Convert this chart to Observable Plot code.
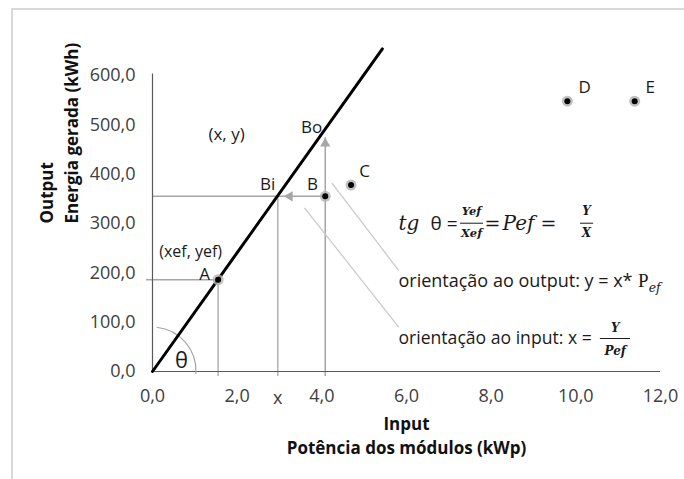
<!DOCTYPE html>
<html><head><meta charset="utf-8">
<script src="https://cdn.jsdelivr.net/npm/d3@7"></script>
<script src="https://cdn.jsdelivr.net/npm/@observablehq/plot@0.6"></script>
<style>
body{margin:0;background:#fff;}
#wrap{position:relative;width:684px;height:479px;overflow:hidden;}
#border{position:absolute;left:11px;top:8px;width:720px;height:520px;border-left:2px solid #d9d9d9;border-top:2px solid #d9d9d9;}
#chart{position:absolute;left:0;top:0;}
</style></head><body>
<div id="wrap"><div id="border"></div><div id="chart"></div></div>
<script>
// ---- data ----
const pointLabels = ["A", "B", "C", "D", "E"];
const pointX = [1.55, 4.08, 4.69, 9.80, 11.39];   // kWp
const pointY = [186, 355, 378, 548, 548];          // kWh
const frontierX = [0, 5.43];
const frontierY = [0, 654];
const projBi = {x: 2.96, y: 355};   // input-oriented projection of B
const projBo = {x: 4.08, y: 490};   // output-oriented projection of B
const xTicks = [0, 2, 4, 6, 8, 10, 12];
const yTicks = [0, 100, 200, 300, 400, 500, 600];

const points = pointLabels.map((l, i) => ({label: l, x: pointX[i], y: pointY[i]}));
const frontier = frontierX.map((x, i) => ({x, y: frontierY[i]}));
const fmt = d => d.toFixed(1).replace(".", ",");

const sans = "'Open Sans', 'Noto Sans', sans-serif";
const serif = "'DejaVu Serif', 'Liberation Serif', serif";
const guide = "#a6a6a6";
const ink = "#1a1a1a";
const A = points[0], B = points[1];

function arcMark(index, scales) {
  const cx = scales.x(0), cy = scales.y(0), r = 44;
  const p = d3.path();
  p.arc(cx, cy, r, 4 * Math.PI / 180, -84 * Math.PI / 180, true);
  return d3.create("svg:path").attr("d", p.toString()).attr("fill", "none")
    .attr("stroke", "#a6a6a6").attr("stroke-width", 1.2).node();
}

const chart = Plot.plot({
  width: 684, height: 479,
  marginLeft: 152, marginRight: 24, marginTop: 75, marginBottom: 108,
  style: {fontFamily: sans, fontSize: "18px", color: "#404040", background: "transparent"},
  x: {domain: [0, 12], ticks: xTicks, tickSize: 0, tickPadding: 18, tickFormat: fmt, label: null},
  y: {domain: [0, 600], ticks: yTicks, tickSize: 0, tickPadding: 17, tickFormat: fmt, label: null},
  marks: [
    // guide lines
    Plot.ruleX([A.x], {y1: -10, y2: A.y, stroke: guide, strokeWidth: 1.3}),
    Plot.ruleX([projBi.x], {y1: -10, y2: projBi.y, stroke: guide, strokeWidth: 1.3}),
    Plot.ruleX([B.x], {y1: -10, y2: 474, stroke: guide, strokeWidth: 1.5}),
    Plot.ruleY([A.y], {x1: -0.14, x2: A.x, stroke: guide, strokeWidth: 1.3}),
    Plot.ruleY([B.y], {x1: 0, x2: B.x, stroke: guide, strokeWidth: 1.5}),
    // arrow heads
    Plot.dot([{x: B.x, y: 474}], {x: "x", y: "y", symbol: "triangle", r: 3.8, fill: guide, dy: 6}),
    Plot.dot([{x: 3.1, y: B.y}], {x: "x", y: "y", symbol: "triangle", r: 3.8, fill: guide, rotate: -90, dx: 6}),
    // leader lines
    Plot.link([{x1: 4.24, y1: 381.7, x2: 5.816, y2: 204.7}, {x1: 3.59, y1: 331.8, x2: 5.816, y2: 89.8}],
      {x1: "x1", y1: "y1", x2: "x2", y2: "y2", stroke: "#c8c8c8", strokeWidth: 1.2}),
    // axes lines
    Plot.ruleY([0], {stroke: "#595959", strokeWidth: 1.2}),
    Plot.ruleX([0], {y1: 0, y2: 603, stroke: "#595959", strokeWidth: 1.2}),
    // angle arc
    arcMark,
    // frontier line
    Plot.line(frontier, {x: "x", y: "y", stroke: "#000", strokeWidth: 3}),
    // points
    Plot.dot(points, {x: "x", y: "y", r: 5.5, fill: "#b0b0b0", fillOpacity: 0.8}),
    Plot.dot(points, {x: "x", y: "y", r: 3, fill: "#000"}),
    // point labels
    Plot.text([
      {t: "A", x: 1.23, y: 197}, {t: "(x, y)", x: 1.75, y: 480}, {t: "Bo", x: 3.76, y: 494.6},
      {t: "Bi", x: 2.72, y: 379}, {t: "B", x: 3.78, y: 379},
      {t: "C", x: 5.01, y: 405}, {t: "D", x: 10.21, y: 576}, {t: "E", x: 11.76, y: 576}
    ], {x: "x", y: "y", text: "t", fill: ink, fontSize: 17}),
    Plot.text(["(xef, yef)"], {x: 0.90, y: 242, fill: ink, fontSize: 16}),
    Plot.text(["θ"], {x: 0.685, y: 22.3, fill: ink, fontSize: 22}),
    Plot.text(["x"], {x: projBi.x, frameAnchor: "bottom", dy: 32, fill: "#404040", fontSize: 18}),
    // formula tg θ
    Plot.text(["tg"], {x: 5.81, y: 300, textAnchor: "start", fontFamily: serif, fontStyle: "italic", fontSize: 20, fill: ink}),
    Plot.text(["θ ="], {x: 6.567, y: 300, textAnchor: "start", fontSize: 19, fill: ink}),
    Plot.text(["Yef", "Xef"], {x: 7.536, y: (d, i) => i ? 279.7 : 324.3, fontFamily: serif, fontStyle: "italic", fontWeight: "bold", fontSize: 11.5, fill: ink}),
    Plot.ruleY([300.6], {x1: 7.276, x2: 7.819, stroke: ink, strokeWidth: 1}),
    Plot.text(["="], {x: 8.03, y: 300, fontFamily: serif, fontSize: 19, fill: ink}),
    Plot.text(["Pef"], {x: 8.27, y: 300, textAnchor: "start", fontFamily: serif, fontStyle: "italic", fontSize: 20, fill: ink}),
    Plot.text(["="], {x: 9.354, y: 300, fontFamily: serif, fontSize: 19, fill: ink}),
    Plot.text(["Y", "X"], {x: 10.25, y: (d, i) => i ? 279.7 : 324.3, fontFamily: serif, fontStyle: "italic", fontWeight: "bold", fontSize: 12, fill: ink}),
    Plot.ruleY([300.6], {x1: 10.11, x2: 10.42, stroke: ink, strokeWidth: 1}),
    // orientation texts
    Plot.text(["orientação ao output: y = x*"], {x: 5.81, y: 182.4, textAnchor: "start", fontSize: 18, fill: ink}),
    Plot.text(["P"], {x: 11.47, y: 184, textAnchor: "start", fontFamily: "'Liberation Serif', serif", fontSize: 19, fill: ink}),
    Plot.text(["ef"], {x: 11.72, y: 169, textAnchor: "start", fontFamily: serif, fontStyle: "italic", fontSize: 12.5, fill: ink}),
    Plot.text(["orientação ao input: x ="], {x: 5.81, y: 66.9, textAnchor: "start", fontSize: 17.6, fill: ink}),
    Plot.text(["Y", "Pef"], {x: 10.93, y: (d, i) => i ? 42 : 88, fontFamily: serif, fontStyle: "italic", fontWeight: "bold", fontSize: 12, fill: ink}),
    Plot.ruleY([66.9], {x1: 10.58, x2: 11.29, stroke: ink, strokeWidth: 1}),
    // axis titles
    Plot.text(["Input"], {frameAnchor: "bottom", dy: 58, fontWeight: "bold", fontSize: 17, fill: "#111"}),
    Plot.text(["Potência dos módulos (kWp)"], {frameAnchor: "bottom", dy: 82, fontWeight: "bold", fontSize: 17, fill: "#111"}),
    Plot.text(["Output"], {frameAnchor: "left", dx: -105, rotate: -90, fontWeight: "bold", fontSize: 17, fill: "#111"}),
    Plot.text(["Energia gerada (kWh)"], {frameAnchor: "left", dx: -80, rotate: -90, fontWeight: "bold", fontSize: 17, fill: "#111"})
  ]
});
document.getElementById("chart").appendChild(chart);
</script>
</body></html>
